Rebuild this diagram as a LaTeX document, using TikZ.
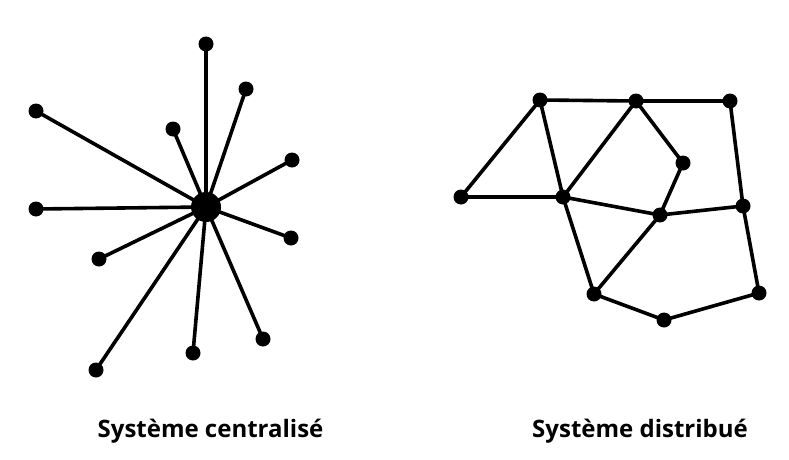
\documentclass[tikz,border=0pt]{standalone}
\usepackage{fontspec}
\setmainfont{Open Sans}
\begin{document}
\begin{tikzpicture}[x=1pt,y=-1pt,
  dot/.style={circle,fill=black,inner sep=0pt,minimum size=15pt},
  hub/.style={circle,fill=black,inner sep=0pt,minimum size=30pt},
  edge/.style={line width=3.6pt},
  lbl/.style={font=\fontsize{24}{27}\selectfont\bfseries,inner sep=0pt,anchor=base}]
\useasboundingbox (0,0) rectangle (789,460);
% centralised
\node[hub] (c) at (206,207) {};
\foreach \n/\x/\y in {a1/206/44, a2/246/89, a3/173/129, a4/292/160, a5/36/111, a6/36/209, a7/291/238, a8/99/259, a9/263/339, a10/193/353, a11/96/370}{
  \node[dot] (\n) at (\x,\y) {};
  \draw[edge] (c.center) -- (\n.center);
}
% distributed
\node[dot] (A) at (540,100) {};
\node[dot] (B) at (636,101) {};
\node[dot] (C) at (730,101) {};
\node[dot] (D) at (683,163) {};
\node[dot] (E) at (461,197) {};
\node[dot] (F) at (563,197) {};
\node[dot] (G) at (660,215) {};
\node[dot] (H) at (743,206) {};
\node[dot] (I) at (594,294) {};
\node[dot] (J) at (664,320) {};
\node[dot] (K) at (759,293) {};
\foreach \u/\v in {A/B,B/C,A/E,E/F,A/F,F/B,B/D,D/G,F/G,G/H,C/H,F/I,I/G,H/K,I/J,J/K}
  \draw[edge] (\u.center) -- (\v.center);
\node[lbl] (t1) at (210.5,437) {Système centralisé};
\node[lbl] (t2) at (640,437) {Système distribué};
\end{tikzpicture}
\end{document}
